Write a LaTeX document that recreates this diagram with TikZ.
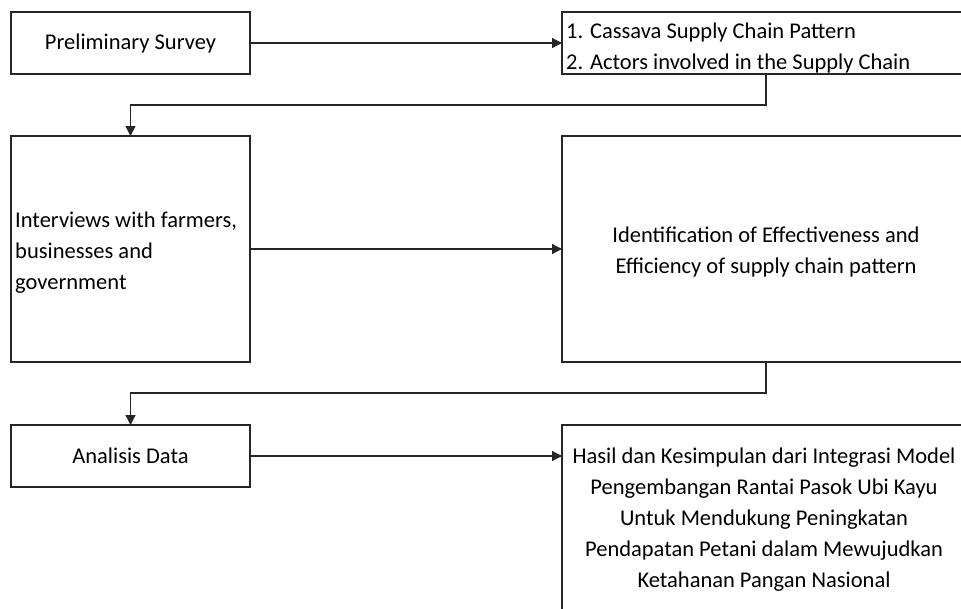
\documentclass[tikz,border=0pt]{standalone}
\usepackage{fontspec}
\setmainfont{Carlito}
\usetikzlibrary{arrows.meta}
\begin{document}
\begin{tikzpicture}[x=1pt,y=-1pt,
  box/.style={draw=black!85,line width=1.3pt,inner sep=0pt,outer sep=0pt,font=\fontsize{22.5}{31}\selectfont},
  txt/.style={inner sep=0pt,font=\fontsize{22.5}{31}\selectfont},
  conn/.style={draw=black!85,line width=1.3pt},
  arr/.style={conn,-{Triangle[length=10pt,width=10pt]}}]
\useasboundingbox (0,0) rectangle (961,608);
\clip (0,0) rectangle (961,608);
\node[box,minimum width=239pt,minimum height=62pt] (pre) at (130.5,43) {Preliminary Survey};
\node[box,minimum width=408pt,minimum height=62pt] (res) at (766,43) {};
\node[txt,anchor=west,align=flush left] (restxt) at (566,47.5)
  {1. Cassava Supply Chain Pattern\\2. Actors involved in the Supply Chain};
\node[box,minimum width=239pt,minimum height=226pt] (int) at (130.5,249) {};
\node[txt,anchor=west,align=flush left] (inttxt) at (15,252.5)
  {Interviews with farmers,\\businesses and\\government};
\node[box,minimum width=408pt,minimum height=226pt] (ide) at (766,249) {};
\node[txt,align=center] (idetxt) at (766,252)
  {Identification of Effectiveness and\\Efficiency of supply chain pattern};
\node[box,minimum width=239pt,minimum height=62pt] (ana) at (130.5,456) {Analisis Data};
\node[box,minimum width=408pt,minimum height=186pt] (has) at (766,518) {};
\node[txt,align=center] (hastxt) at (764,519.5)
  {Hasil dan Kesimpulan dari Integrasi Model\\Pengembangan Rantai Pasok Ubi Kayu\\Untuk Mendukung Peningkatan\\Pendapatan Petani dalam Mewujudkan\\Ketahanan Pangan Nasional};
\draw[arr] (pre.east) -- (res.west);
\draw[arr] (res.south) -- ++(0,31) -| (int.north);
\draw[arr] (int.east) -- (ide.west);
\draw[arr] (ide.south) -- ++(0,31) -| (ana.north);
\draw[arr] (ana.east) -- (ana.east -| has.west);
\end{tikzpicture}
\end{document}
